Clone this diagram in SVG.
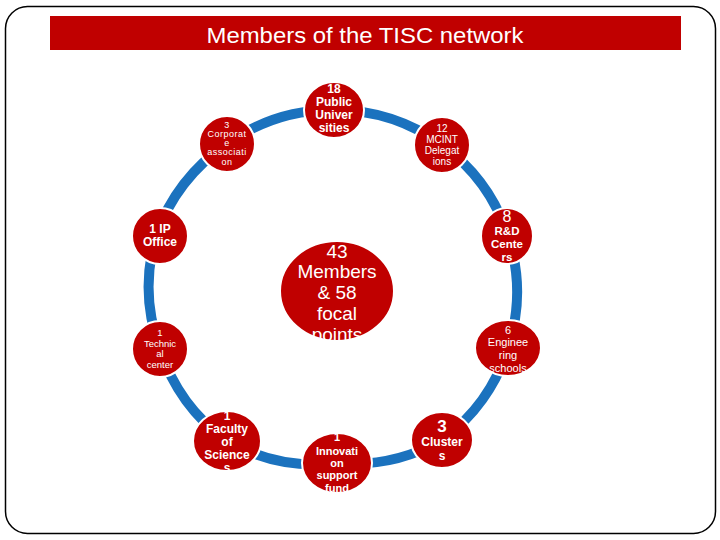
<svg xmlns="http://www.w3.org/2000/svg" width="720" height="540" viewBox="0 0 720 540">
<style>
.node{fill:#C00000;stroke:#ffffff;stroke-width:2}
.ring{fill:none;stroke:#1B72BE;stroke-width:10}
text{fill:#ffffff;font-family:"Liberation Sans",Arial,sans-serif;text-anchor:middle}
.b{font-weight:bold}
</style>
<rect x="5.5" y="6.5" width="710" height="527" rx="22" fill="#ffffff" stroke="#000000" stroke-width="1.5"/>
<g id="title">
<rect x="50" y="16" width="631" height="34" fill="#C00000"/>
<text x="365" y="43" font-size="22" textLength="317" lengthAdjust="spacingAndGlyphs">Members of the TISC network</text>
</g>
<g id="connectors">
<path class="ring" d="M334 110 A180 180 0 0 1 442 145"/>
<path class="ring" d="M442 145 A180 180 0 0 1 508 236"/>
<path class="ring" d="M508 236 A180 180 0 0 1 508 348"/>
<path class="ring" d="M508 348 A180 180 0 0 1 442 440"/>
<path class="ring" d="M442 440 A180 180 0 0 1 337 463"/>
<path class="ring" d="M337 463 A180 180 0 0 1 227 441"/>
<path class="ring" d="M227 441 A180 180 0 0 1 160 349"/>
<path class="ring" d="M160 349 A180 180 0 0 1 156 236"/>
<path class="ring" d="M156 236 A180 180 0 0 1 227 144"/>
<path class="ring" d="M227 144 A180 180 0 0 1 334 110"/>
</g>
<g id="n-center">
<ellipse class="node" cx="337" cy="291" rx="57" ry="50"/>
<text x="337" y="258" font-size="19">43</text>
<text x="337" y="278" font-size="19">Members</text>
<text x="337" y="299" font-size="19">&amp; 58</text>
<text x="337" y="320" font-size="19">focal</text>
<text x="337" y="341" font-size="19">points</text>
</g>
<g id="n-public">
<ellipse class="node" cx="334" cy="110" rx="30" ry="28"/>
<text class="b" x="334" y="93" font-size="12">18</text>
<text class="b" x="334" y="106" font-size="12">Public</text>
<text class="b" x="334" y="119" font-size="12">Univer</text>
<text class="b" x="334" y="132" font-size="12">sities</text>
</g>
<g id="n-corporate">
<ellipse class="node" cx="227" cy="144" rx="28" ry="28"/>
<text x="227" y="128" font-size="9" letter-spacing="0.5">3</text>
<text x="227" y="137" font-size="9" letter-spacing="0.5">Corporat</text>
<text x="227" y="146" font-size="9" letter-spacing="0.5">e</text>
<text x="227" y="155" font-size="9" letter-spacing="0.5">associati</text>
<text x="227" y="165" font-size="9" letter-spacing="0.5">on</text>
</g>
<g id="n-mcint">
<ellipse class="node" cx="442" cy="145" rx="28" ry="28"/>
<text x="442" y="132" font-size="10">12</text>
<text x="442" y="143" font-size="10">MCINT</text>
<text x="442" y="154" font-size="10">Delegat</text>
<text x="442" y="165" font-size="10">ions</text>
</g>
<g id="n-rd">
<ellipse class="node" cx="507" cy="236" rx="26" ry="28"/>
<text x="507" y="222" font-size="16">8</text>
<text class="b" x="507" y="235" font-size="11.5">R&amp;D</text>
<text class="b" x="507" y="248" font-size="11.5">Cente</text>
<text class="b" x="507" y="261" font-size="11.5">rs</text>
</g>
<g id="n-ip">
<ellipse class="node" cx="160" cy="236" rx="28" ry="28"/>
<text class="b" x="160" y="233" font-size="12">1 IP</text>
<text class="b" x="160" y="246" font-size="12">Office</text>
</g>
<g id="n-technical">
<ellipse class="node" cx="160" cy="349" rx="28" ry="28"/>
<text x="160" y="336" font-size="9.5">1</text>
<text x="160" y="347" font-size="9.5">Technic</text>
<text x="160" y="357" font-size="9.5">al</text>
<text x="160" y="368" font-size="9.5">center</text>
</g>
<g id="n-engineering">
<ellipse class="node" cx="508" cy="348" rx="33" ry="28"/>
<text x="508" y="334" font-size="11">6</text>
<text x="508" y="346" font-size="11">Enginee</text>
<text x="508" y="359" font-size="11">ring</text>
<text x="508" y="372" font-size="11">schools</text>
</g>
<g id="n-faculty">
<ellipse class="node" cx="227" cy="441" rx="34" ry="30"/>
<text class="b" x="227" y="420" font-size="12">1</text>
<text class="b" x="227" y="433" font-size="12">Faculty</text>
<text class="b" x="227" y="446" font-size="12">of</text>
<text class="b" x="227" y="459" font-size="12">Science</text>
<text class="b" x="227" y="472" font-size="12">s</text>
</g>
<g id="n-innovation">
<ellipse class="node" cx="337" cy="463" rx="35" ry="30"/>
<text class="b" x="337" y="441" font-size="11">1</text>
<text class="b" x="337" y="455" font-size="11">Innovati</text>
<text class="b" x="337" y="467" font-size="11">on</text>
<text class="b" x="337" y="479" font-size="11">support</text>
<text class="b" x="337" y="492" font-size="11">fund</text>
</g>
<g id="n-clusters">
<ellipse class="node" cx="442" cy="440" rx="31" ry="28"/>
<text class="b" x="442" y="432" font-size="17">3</text>
<text class="b" x="442" y="446" font-size="12">Cluster</text>
<text class="b" x="442" y="460" font-size="12">s</text>
</g>
</svg>
